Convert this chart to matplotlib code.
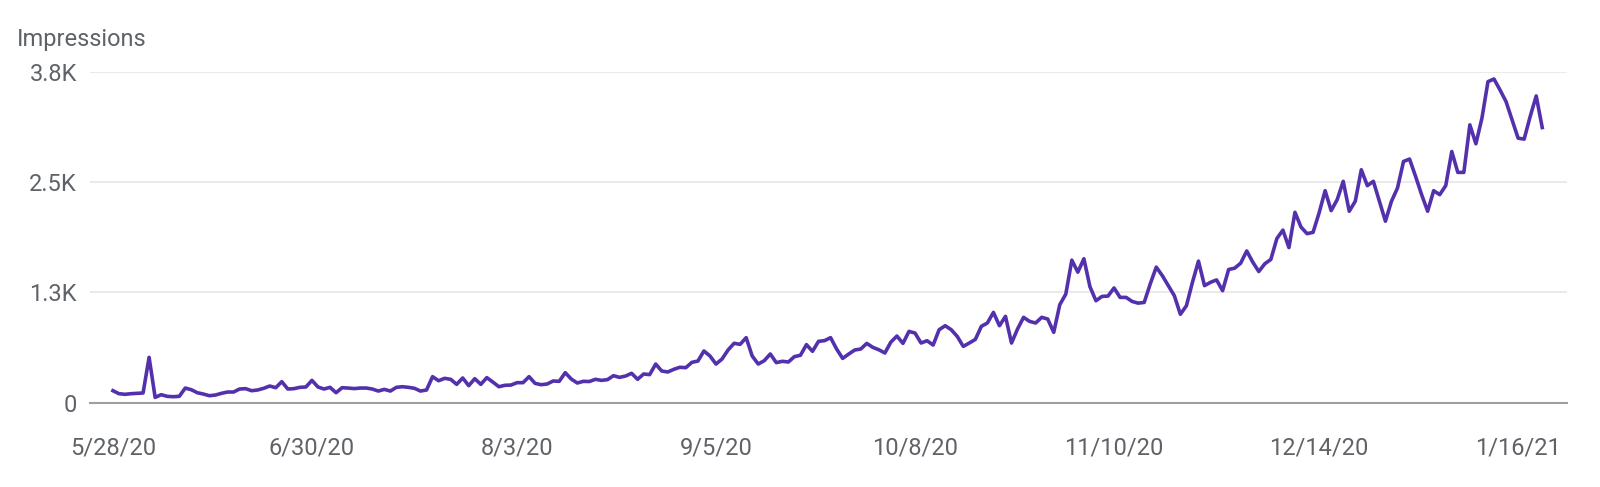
import matplotlib
matplotlib.use("Agg")
import matplotlib.pyplot as plt
import pandas as pd

# ---- data ----
start_date = "2020-05-28"
impressions = [
    136, 102, 95, 102, 106, 110, 514, 60, 91, 72,
    68, 72, 166, 147, 113, 98, 79, 87, 106, 121,
    121, 155, 159, 136, 144, 163, 189, 170, 238, 155,
    159, 174, 178, 253, 178, 155, 174, 113, 170, 166,
    160, 166, 166, 155, 132, 151, 132, 174, 181, 174,
    163, 132, 144, 295, 249, 276, 265, 208, 280, 193,
    272, 208, 284, 234, 181, 197, 200, 227, 227, 295,
    219, 204, 212, 246, 242, 340, 268, 223, 242, 240,
    265, 253, 261, 306, 287, 302, 333, 265, 325, 318,
    438, 359, 348, 378, 401, 397, 457, 472, 586, 529,
    438, 495, 597, 673, 661, 737, 529, 438, 476, 552,
    454, 469, 461, 522, 537, 658, 582, 695, 703, 737,
    608, 502, 551, 597, 608, 672, 627, 600, 563, 687,
    755, 672, 808, 789, 676, 702, 653, 827, 872, 827,
    751, 638, 676, 717, 865, 903, 1023, 872, 978, 676,
    835, 967, 921, 903, 967, 948, 797, 1110, 1230, 1615,
    1479, 1631, 1315, 1155, 1204, 1208, 1300, 1193, 1193, 1147,
    1128, 1136, 1345, 1536, 1440, 1326, 1212, 1002, 1098, 1364,
    1604, 1326, 1364, 1391, 1269, 1509, 1524, 1581, 1719, 1593,
    1486, 1574, 1623, 1860, 1955, 1757, 2157, 1990, 1915, 1930,
    2150, 2402, 2176, 2300, 2508, 2169, 2282, 2639, 2459, 2508,
    2282, 2056, 2282, 2432, 2733, 2760, 2564, 2357, 2169, 2402,
    2357, 2459, 2846, 2609, 2609, 3148, 2933, 3223, 3637, 3667,
    3543, 3411, 3204, 2997, 2986, 3242, 3475, 3117,
]
x_tick_dates = ["2020-05-28", "2020-06-30", "2020-08-03", "2020-09-05",
                "2020-10-08", "2020-11-10", "2020-12-14", "2021-01-16"]
x_tick_labels = ["5/28/20", "6/30/20", "8/3/20", "9/5/20",
                 "10/8/20", "11/10/20", "12/14/20", "1/16/21"]
y_ticks = [0, 1250, 2500, 3750]
y_tick_labels = ["0", "1.3K", "2.5K", "3.8K"]
y_title = "Impressions"

dates = pd.date_range(start_date, periods=len(impressions), freq="D")

plt.rcParams["font.family"] = ["Roboto", "DejaVu Sans"]
text_color = "#5f6368"
line_color = "#5331ad"

fig = plt.figure(figsize=(16, 4.87), dpi=100)
ax = fig.add_axes([0.05625, 0.1731, 0.9231, 0.6797])

ax.plot(dates, impressions, color=line_color, linewidth=2.6,
        solid_joinstyle="round", clip_on=False, zorder=3)

ax.set_ylim(0, 3750)
ax.set_xlim(pd.Timestamp(dates[0]) - pd.Timedelta(days=3.8),
            pd.Timestamp(dates[0]) + pd.Timedelta(days=241.1))

ax.set_yticks(y_ticks)
ax.set_yticklabels(y_tick_labels)
ax.set_xticks([pd.Timestamp(d) for d in x_tick_dates])
ax.set_xticklabels(x_tick_labels)

ax.tick_params(axis="both", length=0, labelsize=17, labelcolor=text_color)
ax.tick_params(axis="y", pad=9.5)
ax.tick_params(axis="x", pad=24.5)

ax.grid(axis="y", color="#e8e8e8", linewidth=1.3, zorder=0)
ax.grid(axis="x", visible=False)
for side in ["top", "right", "left"]:
    ax.spines[side].set_visible(False)
ax.spines["bottom"].set_color("#9e9e9e")
ax.spines["bottom"].set_linewidth(1.5)
ax.spines["bottom"].set_zorder(2)

fig.text(17 / 1600, 1 - 46 / 487, y_title, fontsize=17, color=text_color,
         ha="left", va="baseline")

fig.savefig("out.png", dpi=100, facecolor="white")
